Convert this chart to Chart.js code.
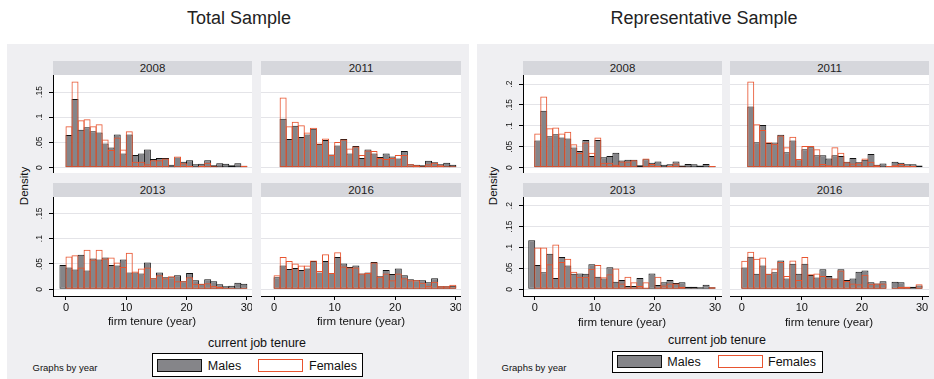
<!DOCTYPE html>
<html><head><meta charset="utf-8">
<script src="https://cdn.jsdelivr.net/npm/chart.js@4.4.1/dist/chart.umd.min.js"></script>
<style>
html,body{margin:0;padding:0;}
body{width:934px;height:379px;position:relative;background:#fff;overflow:hidden;font-family:"Liberation Sans",Arial,Helvetica,sans-serif;color:#111;}
.panel{position:absolute;top:44px;height:335px;background:#EFEFF2;}
.strip{position:absolute;height:14px;background:#D6D7DC;text-align:center;font-size:11.5px;line-height:14px;color:#222;}
.wrap{position:absolute;}
.t{position:absolute;white-space:nowrap;transform:translate(-50%,-50%);}
.title{font-size:18px;color:#222;}
.lg{position:absolute;border:1px solid #000;background:#fff;box-sizing:border-box;}
.sw{position:absolute;box-sizing:border-box;}
</style></head>
<body>
<div class="panel" style="left:7px;width:462px"></div>
<div class="panel" style="left:477px;width:457px"></div>
<div class="t title" style="left:239px;top:18px">Total Sample</div>
<div class="t title" style="left:704px;top:18px">Representative Sample</div>
<div id="host"></div>

<div class="t" style="left:24px;top:186px;font-size:11.5px;transform:translate(-50%,-50%) rotate(-90deg)">Density</div>
<div class="t" style="left:493px;top:186px;font-size:11.5px;transform:translate(-50%,-50%) rotate(-90deg)">Density</div>

<div class="t" style="left:152px;top:321px;font-size:11.5px">firm tenure (year)</div>
<div class="t" style="left:361px;top:321px;font-size:11.5px">firm tenure (year)</div>
<div class="t" style="left:622px;top:322px;font-size:11.5px">firm tenure (year)</div>
<div class="t" style="left:829px;top:322px;font-size:11.5px">firm tenure (year)</div>

<div class="t" style="left:257px;top:343px;font-size:12.5px">current job tenure</div>
<div class="t" style="left:717px;top:340px;font-size:12.5px">current job tenure</div>

<div class="t" style="left:65px;top:367px;font-size:9.5px">Graphs by year</div>
<div class="t" style="left:534px;top:367px;font-size:9.5px">Graphs by year</div>

<div class="lg" style="left:152px;top:353px;width:211px;height:24px"></div>
<div class="sw" style="left:157px;top:359px;width:45px;height:13px;background:#858589;border:1px solid #111"></div>
<div class="t" style="left:224.5px;top:365.5px;font-size:12.5px">Males</div>
<div class="sw" style="left:258px;top:359px;width:45px;height:13px;background:#fff;border:1px solid #E8542F"></div>
<div class="t" style="left:333px;top:365.5px;font-size:12.5px">Females</div>

<div class="lg" style="left:612px;top:351px;width:211px;height:22px"></div>
<div class="sw" style="left:617px;top:355px;width:45px;height:13px;background:#858589;border:1px solid #111"></div>
<div class="t" style="left:684px;top:361.5px;font-size:12.5px">Males</div>
<div class="sw" style="left:718px;top:355px;width:45px;height:13px;background:#fff;border:1px solid #E8542F"></div>
<div class="t" style="left:792px;top:361.5px;font-size:12.5px">Females</div>

<script>
// ---------- data (density per 1-year tenure bin) ----------
const years = ['2008', '2011', '2013', '2016'];
const xTickValues = [0, 10, 20, 30];
const totalYTicks = [0, 0.05, 0.1, 0.15];
const reprYTicks = [0, 0.05, 0.1, 0.15, 0.2];
// lower edge of the first tenure bin, per year
const firstBinMales = [0, 1, -1, 0];
const firstBinFemales = [0, 1, 0, 0];

// Total Sample
const ts2008Males = [0.065,0.136,0.075,0.080,0.072,0.070,0.048,0.040,0.066,0.028,0.066,0.025,0.028,0.036,0.017,0.019,0.019,0.006,0.020,0.012,0.015,0.007,0.008,0.015,0.005,0.009,0.008,0.005,0.009,0.004];
const ts2008Females = [0.082,0.171,0.094,0.096,0.082,0.086,0.056,0.035,0.060,0.036,0.072,0.012,0.012,0.007,0.015,0.015,0.018,0.002,0.022,0.009,0.004,0.002,0.004,0.010,0.003,0.002,0.001,0,0,0.004];
const ts2011Males = [0.097,0.057,0.083,0.061,0.066,0.077,0.047,0.055,0.026,0.044,0.057,0.028,0.043,0.019,0.036,0.028,0.021,0.028,0.022,0.018,0.033,0.007,0.006,0.005,0.014,0.011,0.007,0.010,0.006];
const ts2011Females = [0.139,0.082,0.091,0.084,0.070,0.079,0.048,0.058,0.025,0.051,0.056,0.038,0.042,0.025,0.034,0.033,0.019,0.017,0.019,0.025,0.025,0.007,0.005,0.003,0.007,0.010,0.005,0.003,0.003];
const ts2013Males = [0.048,0.043,0.039,0.068,0.037,0.061,0.059,0.063,0.048,0.047,0.059,0.033,0.033,0.031,0.053,0.022,0.033,0.024,0.024,0.028,0.016,0.032,0.018,0.011,0.020,0.016,0.010,0.006,0.007,0.013,0.011];
const ts2013Females = [0.065,0.067,0.043,0.078,0.059,0.078,0.061,0.063,0.053,0.044,0.072,0.035,0.041,0.043,0.022,0.028,0.022,0.026,0.016,0.016,0.024,0.011,0.011,0.012,0.007,0.005,0.003,0.003,0.002,0.003];
const ts2016Males = [0.024,0.047,0.040,0.042,0.038,0.041,0.056,0.033,0.056,0.032,0.064,0.051,0.044,0.047,0.031,0.033,0.054,0.026,0.038,0.030,0.041,0.028,0.020,0.018,0.018,0.014,0.022,0.006,0.006,0.007];
const ts2016Females = [0.028,0.064,0.056,0.051,0.047,0.047,0.057,0.036,0.069,0.032,0.073,0.045,0.043,0.043,0.031,0.032,0.053,0.025,0.031,0.018,0.031,0.022,0.018,0.018,0.013,0.007,0.015,0.006,0.006,0.009];

// Representative Sample
const rs2008Males = [0.065,0.136,0.075,0.080,0.072,0.070,0.048,0.040,0.066,0.028,0.066,0.025,0.028,0.036,0.017,0.019,0.019,0.006,0.020,0.012,0.015,0.007,0.008,0.015,0.005,0.009,0.008,0.005,0.009,0.004];
const rs2008Females = [0.082,0.170,0.094,0.096,0.082,0.086,0.056,0.035,0.060,0.036,0.072,0.012,0.012,0.007,0.015,0.015,0.018,0.002,0.022,0.009,0.004,0.002,0.004,0.010,0.003,0.002,0.001,0,0,0.004];
const rs2011Males = [0.146,0.061,0.102,0.059,0.060,0.079,0.037,0.065,0.020,0.044,0.049,0.030,0.030,0.022,0.030,0.028,0.014,0.023,0.013,0.019,0.033,0.007,0.010,0.002,0.014,0.012,0.008,0.008,0.005];
const rs2011Females = [0.206,0.104,0.090,0.061,0.057,0.077,0.049,0.074,0.021,0.052,0.052,0.044,0.009,0.006,0.049,0.036,0.013,0.010,0.012,0.022,0.014,0.006,0.002,0.004,0.006,0.009,0.004,0.004,0];
const rs2013Males = [0.117,0.058,0.041,0.085,0.027,0.077,0.057,0.037,0.038,0.037,0.060,0.030,0.026,0.053,0.018,0.022,0.008,0.008,0.027,0.003,0.038,0.010,0.017,0.022,0.015,0.017,0.006,0.006,0.005,0.011,0.005];
const rs2013Females = [0.100,0.100,0.060,0.107,0.065,0.073,0.042,0.030,0.030,0.049,0.058,0.029,0.036,0.050,0.014,0.030,0.017,0.008,0.017,0.002,0.030,0.009,0.014,0.014,0.006,0.002,0.002,0,0,0.005];
const rs2016Males = [0.052,0.078,0.037,0.057,0.037,0.041,0.069,0.026,0.061,0.037,0.061,0.034,0.028,0.048,0.032,0.026,0.048,0.022,0.026,0.042,0.045,0.017,0.014,0.019,0,0.018,0.017,0.006,0.006,0.009];
const rs2016Females = [0.068,0.090,0.073,0.076,0.037,0.050,0.065,0.032,0.069,0.022,0.077,0.036,0.038,0.032,0.026,0.026,0.045,0.020,0.014,0.012,0.035,0.013,0.014,0.014,0.002,0.004,0.006,0.006,0,0.012];

// ---------- styling ----------
const FONT = '"Liberation Sans", Arial, Helvetica, sans-serif';
const MALE_FILL = '#858589', MALE_LINE = '#111111', FEMALE_LINE = '#E8542F', GRID = '#E4E4E8';

function bins(start, values) {
  return values.map((v, i) => ({ x: start + i + 0.5, y: v }));
}
function yFmt(v) {
  if (Math.abs(v) < 1e-9) return '0';
  return String(+v.toFixed(2)).replace(/^0\./, '.');
}
const whiteBg = {
  id: 'whiteBg',
  beforeDraw(chart) {
    const { ctx, chartArea: a } = chart;
    ctx.save(); ctx.fillStyle = '#fff';
    ctx.fillRect(a.left, a.top, a.right - a.left, a.bottom - a.top);
    ctx.restore();
  }
};

function subplot(o) {
  const yW = o.showY ? 22 : 0;
  const xH = o.showX ? 20 : 0;
  const [x0, y0, x1, y1] = o.plot;
  const W = x1 - x0 + yW, H = y1 - y0 + xH;
  const host = document.getElementById('host');
  const strip = document.createElement('div');
  strip.className = 'strip';
  strip.style.left = x0 + 'px'; strip.style.top = (y0 - 14) + 'px'; strip.style.width = (x1 - x0) + 'px';
  strip.textContent = o.year;
  host.appendChild(strip);
  const wrap = document.createElement('div');
  wrap.className = 'wrap';
  wrap.style.left = (x0 - yW) + 'px'; wrap.style.top = y0 + 'px';
  wrap.style.width = W + 'px'; wrap.style.height = H + 'px';
  const cv = document.createElement('canvas');
  cv.width = W; cv.height = H; cv.style.width = W + 'px'; cv.style.height = H + 'px';
  wrap.appendChild(cv); host.appendChild(wrap);
  const common = { grouped: false, barPercentage: 1.16, categoryPercentage: 1, borderWidth: 1, borderSkipped: false };
  new Chart(cv, {
    type: 'bar',
    data: {
      datasets: [
        Object.assign({ label: 'Males', data: bins(o.mStart, o.males), backgroundColor: MALE_FILL, borderColor: MALE_LINE, order: 2 }, common),
        Object.assign({ label: 'Females', data: bins(o.fStart, o.females), backgroundColor: 'rgba(0,0,0,0)', borderColor: FEMALE_LINE, order: 1 }, common)
      ]
    },
    options: {
      responsive: false, maintainAspectRatio: false, animation: false,
      devicePixelRatio: 1,
      layout: { padding: 0 },
      plugins: { legend: { display: false }, tooltip: { enabled: false }, title: { display: false } },
      scales: {
        x: {
          type: 'linear', min: o.xMin, max: o.xMax, offset: false, display: o.showX,
          grid: { display: true, offset: false, drawOnChartArea: false, drawTicks: true, tickLength: 4, tickColor: '#000', tickWidth: 1 },
          border: { display: true, color: '#000', width: 1 },
          ticks: { font: { family: FONT, size: 11 }, color: '#111', padding: 1, maxRotation: 0, autoSkip: false, callback: v => String(v) },
          afterBuildTicks: s => { s.ticks = xTickValues.map(v => ({ value: v })); },
          afterFit: s => { s.height = xH; s.paddingLeft = 0; s.paddingRight = 0; }
        },
        y: {
          type: 'linear', min: o.yMin, max: o.yMax, display: true,
          grid: { color: GRID, lineWidth: 1, drawTicks: o.showY, tickLength: 4, tickColor: '#000', tickWidth: 1 },
          border: { display: o.showY, color: '#000', width: 1 },
          ticks: { display: o.showY, minRotation: 90, maxRotation: 90, crossAlign: 'center', padding: 3, font: { family: FONT, size: 8.5 }, color: '#111', callback: yFmt },
          afterBuildTicks: s => { s.ticks = o.yTicks.map(v => ({ value: v })); },
          afterFit: s => { s.width = yW; s.paddingTop = 0; s.paddingBottom = 0; }
        }
      }
    },
    plugins: [whiteBg]
  });
}

const tsX = { xMin: -2.15, xMax: 30.85 };
const rsX = { xMin: -1.95, xMax: 31.15 };
// Total Sample
subplot(Object.assign({ year: years[0], plot: [53, 75, 252, 173], showY: true, showX: false, yMin: -0.0105, yMax: 0.1837, yTicks: totalYTicks, mStart: firstBinMales[0], fStart: firstBinFemales[0], males: ts2008Males, females: ts2008Females }, tsX));
subplot(Object.assign({ year: years[1], plot: [261, 75, 461, 173], showY: false, showX: false, yMin: -0.0105, yMax: 0.1837, yTicks: totalYTicks, mStart: firstBinMales[1], fStart: firstBinFemales[1], males: ts2011Males, females: ts2011Females }, tsX));
subplot(Object.assign({ year: years[2], plot: [53, 197, 252, 296], showY: true, showX: true, yMin: -0.0132, yMax: 0.1822, yTicks: totalYTicks, mStart: firstBinMales[2], fStart: firstBinFemales[2], males: ts2013Males, females: ts2013Females }, tsX));
subplot(Object.assign({ year: years[3], plot: [261, 197, 461, 296], showY: false, showX: true, yMin: -0.0132, yMax: 0.1822, yTicks: totalYTicks, mStart: firstBinMales[3], fStart: firstBinFemales[3], males: ts2016Males, females: ts2016Females }, tsX));
// Representative Sample
subplot(Object.assign({ year: years[0], plot: [523, 75, 722, 173], showY: true, showX: false, yMin: -0.0127, yMax: 0.2216, yTicks: reprYTicks, mStart: firstBinMales[0], fStart: firstBinFemales[0], males: rs2008Males, females: rs2008Females }, rsX));
subplot(Object.assign({ year: years[1], plot: [730, 75, 929, 173], showY: false, showX: false, yMin: -0.0127, yMax: 0.2216, yTicks: reprYTicks, mStart: firstBinMales[1], fStart: firstBinFemales[1], males: rs2011Males, females: rs2011Females }, rsX));
subplot(Object.assign({ year: years[2], plot: [523, 197, 722, 296], showY: true, showX: true, yMin: -0.016, yMax: 0.2206, yTicks: reprYTicks, mStart: firstBinMales[2], fStart: firstBinFemales[2], males: rs2013Males, females: rs2013Females }, rsX));
subplot(Object.assign({ year: years[3], plot: [730, 197, 929, 296], showY: false, showX: true, yMin: -0.016, yMax: 0.2206, yTicks: reprYTicks, mStart: firstBinMales[3], fStart: firstBinFemales[3], males: rs2016Males, females: rs2016Females }, rsX));
</script>
</body></html>
